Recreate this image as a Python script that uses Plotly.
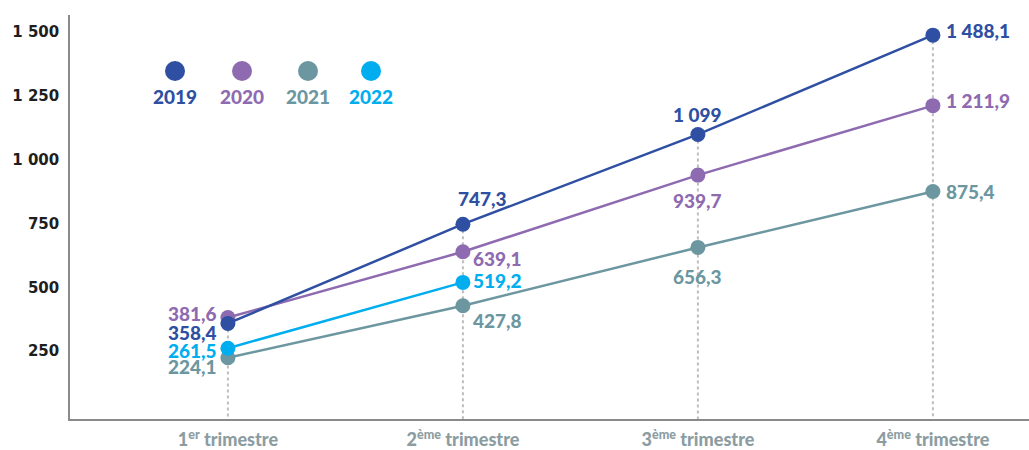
import plotly.graph_objects as go

categories = ["1<sup>er</sup> trimestre", "2<sup>ème</sup> trimestre",
              "3<sup>ème</sup> trimestre", "4<sup>ème</sup> trimestre"]
years = ["2019", "2020", "2021", "2022"]
values_2019 = [358.4, 747.3, 1099.0, 1488.1]
values_2020 = [381.6, 639.1, 939.7, 1211.9]
values_2021 = [224.1, 427.8, 656.3, 875.4]
values_2022 = [261.5, 519.2]
y_ticks = [250, 500, 750, 1000, 1250, 1500]

series = {"2019": values_2019, "2020": values_2020, "2021": values_2021, "2022": values_2022}
colors = {"2019": "#2E4FA2", "2020": "#8E6BB1", "2021": "#6C97A0", "2022": "#00AEEF"}

# label placement per point: (xanchor, xshift, yshift)
label_pos = {
    "2019": [("right", -10, -9), ("left", -6, 26), ("center", 0, 20), ("left", 12, 5)],
    "2020": [("right", -10, 4), ("left", 9, -7), ("center", 0, -25), ("left", 12, 5)],
    "2021": [("right", -10, -9), ("left", 9, -15), ("center", 0, -29), ("left", 12, 0)],
    "2022": [("right", -10, -2), ("left", 9, 2)],
}

Y_MIN, Y_MAX = -16, 1567
LABEL_FONT = dict(family="Lato", size=19, weight=900)


def fr(v):
    if float(v).is_integer():
        s = f"{int(v):,}"
    else:
        s = f"{v:,.1f}"
    return s.replace(",", " ").replace(".", ",")


fig = go.Figure()

# dotted drop lines from highest value of each quarter
for i, cat in enumerate(categories):
    top = max(vals[i] for vals in series.values() if len(vals) > i)
    fig.add_trace(go.Scatter(x=[cat, cat], y=[top, Y_MIN], mode="lines",
                             line=dict(color="#BDBDBD", width=2, dash="dot"),
                             hoverinfo="skip", showlegend=False))

for yr in ["2021", "2022", "2020", "2019"]:
    vals = series[yr]
    fig.add_trace(go.Scatter(x=categories[:len(vals)], y=vals, mode="lines+markers",
                             name=yr, line=dict(color=colors[yr], width=2.5),
                             marker=dict(color=colors[yr], size=15), showlegend=False))

annotations = []
for yr, vals in series.items():
    for i, v in enumerate(vals):
        xa, xs, ys = label_pos[yr][i]
        annotations.append(dict(x=categories[i], y=v, xref="x", yref="y", text=fr(v),
                                showarrow=False, xanchor=xa, yanchor="middle",
                                xshift=xs, yshift=ys, borderpad=0,
                                font=dict(LABEL_FONT, color=colors[yr])))

# legend: circles above year labels
legend_x_px = [175, 242, 308, 371]
shapes = []
for yr, px in zip(years, legend_x_px):
    xp = (px - 70) / 959
    shapes.append(dict(type="circle", xref="paper", yref="paper",
                       xsizemode="pixel", ysizemode="pixel",
                       xanchor=xp, yanchor=(419 - 71) / 404,
                       x0=-10, x1=10, y0=-10, y1=10,
                       fillcolor=colors[yr], line=dict(width=0)))
    annotations.append(dict(x=xp, y=(419 - 97) / 404, xref="paper", yref="paper",
                            text=yr, showarrow=False, xanchor="center", yanchor="middle",
                            font=dict(LABEL_FONT, color=colors[yr])))

fig.update_layout(
    width=1029, height=450,
    margin=dict(l=70, r=0, t=15, b=31, autoexpand=False),
    plot_bgcolor="white", paper_bgcolor="white",
    showlegend=False,
    annotations=annotations, shapes=shapes,
    xaxis=dict(type="category", categoryorder="array", categoryarray=categories,
               range=[-0.672, 3.409], showgrid=False, zeroline=False, automargin=False,
               showline=True, linecolor="#8A8A8A", linewidth=1.5, ticks="",
               ticklabelstandoff=4,
               tickfont=dict(family="Lato", size=18, color="#8C9DA2", weight=900)),
    yaxis=dict(range=[Y_MIN, Y_MAX], tickvals=y_ticks, ticktext=[fr(t) for t in y_ticks],
               showgrid=False, zeroline=False, showline=True, linecolor="#8A8A8A",
               linewidth=1.5, ticks="", ticklabelstandoff=6, automargin=False,
               tickfont=dict(family="DejaVu Sans", size=15, color="#1E1E1E", weight="bold")),
)

fig.write_html("out.html", config={"displayModeBar": False},
               post_script="document.body.style.margin='0px';document.body.style.overflow='hidden';")
